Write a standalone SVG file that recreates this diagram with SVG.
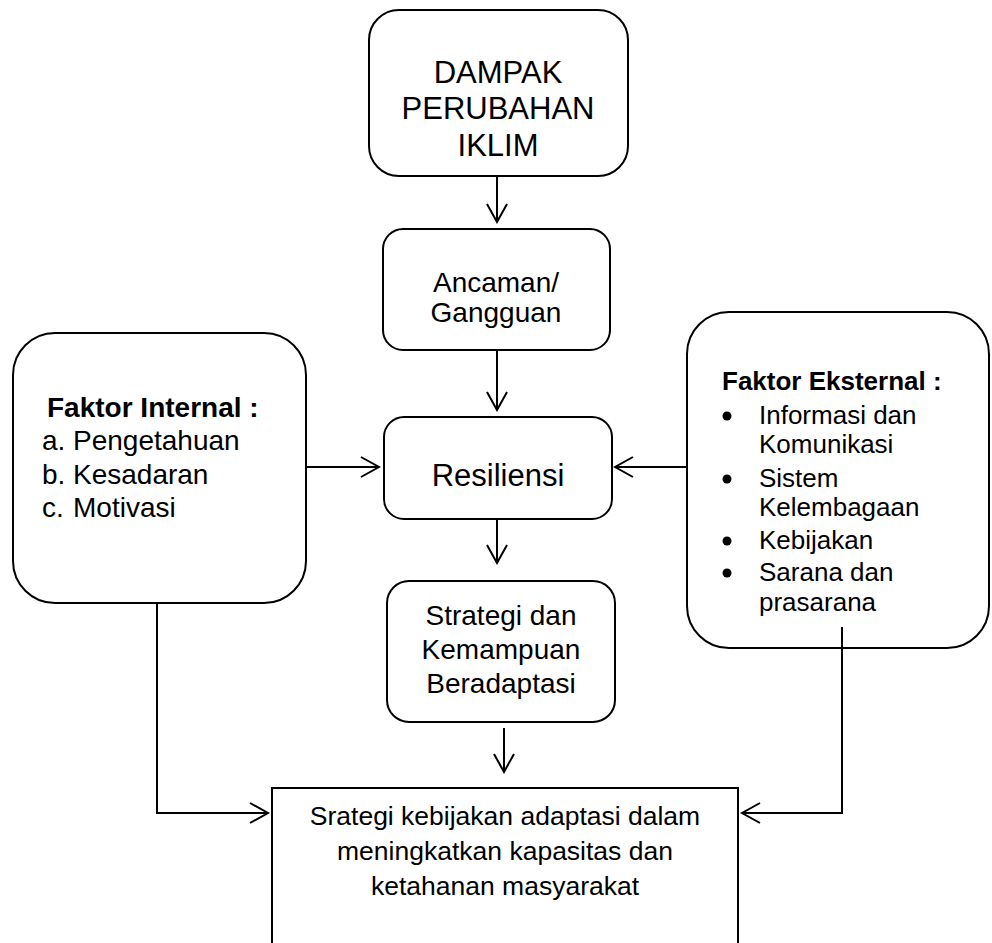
<svg xmlns="http://www.w3.org/2000/svg" width="992" height="943" viewBox="0 0 992 943">
<defs>
<style>
.box{fill:#fff;stroke:#000;stroke-width:2}
.t{font-family:"Liberation Sans",Arial,sans-serif;fill:#000}
.c{text-anchor:middle}
.b{font-weight:bold}
.con{fill:none;stroke:#000;stroke-width:2}
</style>
<marker id="arr" viewBox="-20 -12 22 24" refX="0" refY="0" markerWidth="22" markerHeight="24" orient="auto" markerUnits="userSpaceOnUse">
<path d="M-18,-10 L0,0 L-18,10" fill="none" stroke="#000" stroke-width="2"/>
</marker>
</defs>
<rect width="992" height="943" fill="#fff"/>
<g id="dampak">
<rect class="box" x="369" y="10" width="259" height="166" rx="30"/>
<text class="t c" font-size="31" x="498" y="83">DAMPAK</text>
<text class="t c" font-size="31" x="498" y="119">PERUBAHAN</text>
<text class="t c" font-size="31" x="498" y="156">IKLIM</text>
</g>
<g id="ancaman">
<rect class="box" x="383" y="229" width="227" height="121" rx="20"/>
<text class="t c" font-size="28" x="496" y="292">Ancaman/</text>
<text class="t c" font-size="28" x="496" y="322">Gangguan</text>
</g>
<g id="resiliensi">
<rect class="box" x="384" y="417" width="228" height="102" rx="20"/>
<text class="t c" font-size="31" x="498" y="486">Resiliensi</text>
</g>
<g id="strategi">
<rect class="box" x="387" y="581" width="228" height="141" rx="22"/>
<text class="t c" font-size="28" x="501" y="625">Strategi dan</text>
<text class="t c" font-size="28" x="501" y="659">Kemampuan</text>
<text class="t c" font-size="28" x="501" y="693">Beradaptasi</text>
</g>
<g id="internal">
<rect class="box" x="13" y="333" width="293" height="270" rx="42"/>
<text class="t b" font-size="28" x="47" y="417">Faktor Internal :</text>
<text class="t" font-size="28" x="42" y="450">a.</text>
<text class="t" font-size="28" x="73" y="450">Pengetahuan</text>
<text class="t" font-size="28" x="42" y="484">b.</text>
<text class="t" font-size="28" x="73" y="484">Kesadaran</text>
<text class="t" font-size="28" x="42" y="517">c.</text>
<text class="t" font-size="28" x="73" y="517">Motivasi</text>
</g>
<g id="eksternal">
<rect class="box" x="687" y="312" width="302" height="336" rx="42"/>
<text class="t b" font-size="26" x="722" y="390">Faktor Eksternal :</text>
<circle cx="727" cy="416" r="4.5"/>
<text class="t" font-size="26" x="759" y="424">Informasi dan</text>
<text class="t" font-size="26" x="759" y="453">Komunikasi</text>
<circle cx="727" cy="479" r="4.5"/>
<text class="t" font-size="26" x="759" y="487">Sistem</text>
<text class="t" font-size="26" x="759" y="516">Kelembagaan</text>
<circle cx="727" cy="541" r="4.5"/>
<text class="t" font-size="26" x="759" y="549">Kebijakan</text>
<circle cx="727" cy="573" r="4.5"/>
<text class="t" font-size="26" x="759" y="581">Sarana dan</text>
<text class="t" font-size="26" x="759" y="611">prasarana</text>
</g>
<g id="final">
<rect class="box" x="272" y="788" width="466" height="175" stroke-width="1.6"/>
<text class="t c" font-size="26.5" x="505" y="825">Srategi kebijakan adaptasi dalam</text>
<text class="t c" font-size="26.5" x="505" y="860">meningkatkan kapasitas dan</text>
<text class="t c" font-size="26.5" x="505" y="895">ketahanan masyarakat</text>
</g>
<g id="connectors">
<path class="con" d="M497,176 L497,222" marker-end="url(#arr)"/>
<path class="con" d="M497,350 L497,410" marker-end="url(#arr)"/>
<path class="con" d="M497,519 L497,563" marker-end="url(#arr)"/>
<path class="con" d="M504,728 L504,772" marker-end="url(#arr)"/>
<path class="con" d="M306,467 L379,467" marker-end="url(#arr)"/>
<path class="con" d="M687,467 L615,467" marker-end="url(#arr)"/>
<path class="con" d="M157,603 L157,813 L268,813" marker-end="url(#arr)"/>
<path class="con" d="M842,627 L842,813 L742,813" marker-end="url(#arr)"/>
</g>
</svg>
